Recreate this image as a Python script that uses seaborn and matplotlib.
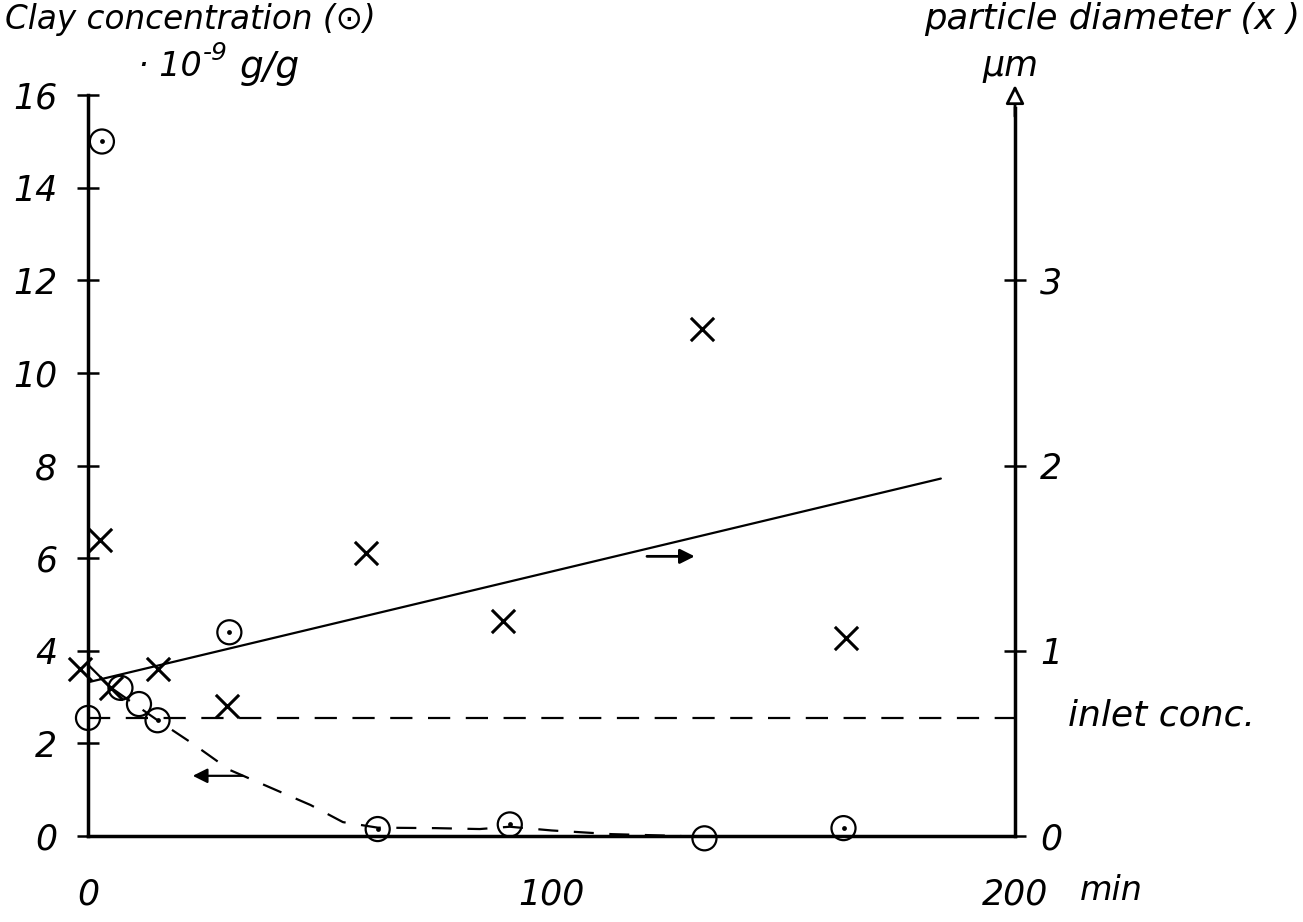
import numpy as np
import pandas as pd
import matplotlib.pyplot as plt
import seaborn as sns

# clay concentration (1e-9 g/g) vs time (min), circles
conc_t = [3, 0, 7, 11, 15, 30.5, 62.5, 91, 133, 163]
conc_v = [15.0, 2.55, 3.2, 2.85, 2.5, 4.4, 0.15, 0.25, -0.05, 0.17]
conc_dot = [True, False, False, False, True, True, True, True, False, True]

# particle diameter (um) vs time (min), crosses
diam_t = [-1.7, 2.6, 5, 15, 30, 60, 89.5, 132.5, 163.5]
diam_v = [0.90, 1.60, 0.80, 0.90, 0.70, 1.53, 1.16, 2.74, 1.07]

# hand drawn fits
fit_t = [0, 184]
fit_d = [0.83, 1.93]
curve_t = [0, 5, 10, 15, 22.5, 30.5, 42, 48, 55, 62.5, 75, 84.5, 91, 100, 113, 128]
curve_v = [3.7, 3.2, 2.85, 2.5, 2.0, 1.43, 0.93, 0.67, 0.30, 0.18, 0.17, 0.15, 0.2, 0.12, 0.04, 0.0]
inlet_conc = 2.55

sns.set_theme(style="white")
plt.rcParams['font.family'] = ['DejaVu Sans']
plt.rcParams['font.style'] = 'italic'
plt.rcParams['text.color'] = 'black'

fig = plt.figure(figsize=(13.03, 9.22), dpi=100)
ax = fig.add_axes([88/1303, 86/922, 927/1303, 740.8/922])
ax.set_xlim(0, 200)
ax.set_ylim(0, 16)
ax.patch.set_alpha(0)

conc = pd.DataFrame({"t": conc_t, "c": conc_v, "dotted": conc_dot})
sns.scatterplot(data=conc, x="t", y="c", ax=ax, marker="o", s=300,
                facecolor="none", edgecolor="black", linewidth=1.6, clip_on=False, zorder=4)
sns.scatterplot(data=conc[conc["dotted"]], x="t", y="c", ax=ax, marker="o", s=12,
                color="black", linewidth=0, clip_on=False, zorder=4)
sns.lineplot(x=curve_t, y=curve_v, ax=ax, color="black", lw=1.6,
             linestyle=(0, (9, 7)), clip_on=False)
ax.axhline(inlet_conc, color="black", lw=1.6, linestyle=(0, (10, 7)))
ax.annotate("", xy=(22, 1.3), xytext=(34, 1.3),
            arrowprops=dict(arrowstyle="-|>", color="black", lw=1.6, mutation_scale=22))

for s in ["top", "right"]:
    ax.spines[s].set_visible(False)
for s in ["left", "bottom"]:
    ax.spines[s].set_linewidth(2.5)
    ax.spines[s].set_color("black")
ax.set_xticks([0, 100, 200])
ax.set_xticklabels(["0", "100", "200"])
ax.set_yticks(range(0, 17, 2))
ax.tick_params(axis="both", direction="inout", length=16, width=1.8, labelsize=25, colors="black")
ax.tick_params(axis="x", pad=22)
ax.tick_params(axis="y", pad=14)
ax.set_xlabel("")
ax.set_ylabel("")

ax2 = ax.twinx()
ax2.set_ylim(0, 4)
ax2.patch.set_alpha(0)
diam = pd.DataFrame({"t": diam_t, "d": diam_v})
sns.scatterplot(data=diam, x="t", y="d", ax=ax2, marker="x", s=280,
                color="black", linewidth=2.2, clip_on=False, zorder=4)
sns.lineplot(x=fit_t, y=fit_d, ax=ax2, color="black", lw=1.6)
ax2.annotate("", xy=(131.5, 1.51), xytext=(120, 1.51),
             arrowprops=dict(arrowstyle="-|>", color="black", lw=2, mutation_scale=22))
for s in ["top", "left", "bottom"]:
    ax2.spines[s].set_visible(False)
ax2.spines["right"].set_linewidth(2.5)
ax2.spines["right"].set_color("black")
ax2.spines["right"].set_bounds(0, 3.93)
ax2.annotate("", xy=(200, 4.07), xytext=(200, 3.87),
             arrowprops=dict(arrowstyle="-|>", fc="white", ec="black", lw=2, mutation_scale=28),
             annotation_clip=False)
ax2.set_yticks([0, 1, 2, 3])
ax2.tick_params(axis="y", direction="inout", length=16, width=1.8, labelsize=25, pad=10, colors="black")
ax2.set_ylabel("")
ax2.set_xlim(0, 200)

fig.text(5/1303, 1 - 19/922, "Clay concentration (⊙)", ha="left", va="center", fontsize=23.5)
fig.text(1300/1303, 1 - 19/922, "particle diameter (x )", ha="right", va="center", fontsize=25.5)
fig.text(138/1303, 1 - 66/922, "· 10", ha="left", va="center", fontsize=24)
fig.text(203/1303, 1 - 53/922, "-9", ha="left", va="center", fontsize=18)
fig.text(240/1303, 1 - 68/922, "g/g", ha="left", va="center", fontsize=27)
fig.text(1010/1303, 1 - 66/922, "µm", ha="center", va="center", fontsize=25)
fig.text(1068/1303, 1 - 716/922, "inlet conc.", ha="left", va="center", fontsize=26)
fig.text(1080/1303, 1 - 890/922, "min", ha="left", va="center", fontsize=24)

fig.savefig("out.png", dpi=100)
